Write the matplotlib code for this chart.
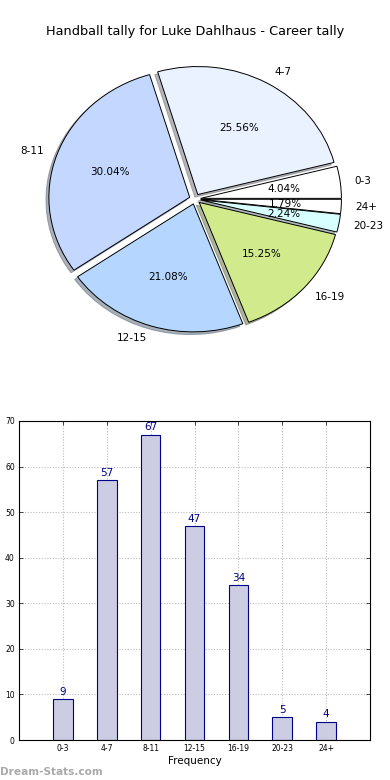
import matplotlib
matplotlib.use('Agg')
import matplotlib.pyplot as plt

# Data
categories = ['0-3', '4-7', '8-11', '12-15', '16-19', '20-23', '24+']
counts = [9, 57, 67, 47, 34, 5, 4]
pie_colours = ['#ffffff', '#eaf2ff', '#c4d8ff', '#b4d6ff', '#d0ea8c', '#d8ffff', '#ffffff']
title = 'Handball tally for Luke Dahlhaus - Career tally'

fig = plt.figure(figsize=(3.9, 7.8), dpi=100)

# Pie
ax1 = fig.add_axes([19 / 390, 421 / 780, 352 / 390, 320 / 780])
wedges, texts, autotexts = ax1.pie(counts, labels=categories, colors=pie_colours,
                                   explode=[0.04] * len(counts),
                                   shadow={'ox': -0.015, 'oy': -0.015, 'shade': 0.55},
                                   autopct='%1.2f%%', pctdistance=0.6, labeldistance=1.1,
                                   startangle=0, counterclock=True,
                                   wedgeprops={'edgecolor': 'black', 'linewidth': 0.7},
                                   textprops={'fontsize': 7.5})
ax1.set_aspect('auto')
ax1.set_xlim(-1.25, 1.25)
ax1.set_ylim(-1.25, 1.25)
ax1.set_title(title, fontsize=9.3, pad=3)

# Bars
ax2 = fig.add_axes([19 / 390, 40 / 780, 351 / 390, 319 / 780])
x = range(len(categories))
ax2.bar(x, counts, width=0.45, color='#cccce2', edgecolor='#000088', linewidth=0.8, zorder=2)
for xi, c in zip(x, counts):
    ax2.text(xi, c + 0.5, str(c), ha='center', va='bottom', color='#000088', fontsize=7.5)
ax2.set_xlim(-1, 7)
ax2.set_ylim(0, 70)
ax2.set_xticks(list(x))
ax2.set_xticklabels(categories)
ax2.set_yticks(range(0, 71, 10))
ax2.tick_params(labelsize=5.5, direction='in', top=True, right=True, length=3, width=0.5, pad=3)
ax2.grid(True, linestyle=(0, (1, 1.5)), color='#bbbbbb', linewidth=0.8, zorder=0)
ax2.set_xlabel('Frequency', fontsize=7.5, labelpad=2)
for s in ax2.spines.values():
    s.set_linewidth(0.8)

fig.text(0.0, 0.006, 'Dream-Stats.com', fontsize=7.6, fontweight='bold', color='#aaaaaa')

plt.savefig('out.png', dpi=100)
